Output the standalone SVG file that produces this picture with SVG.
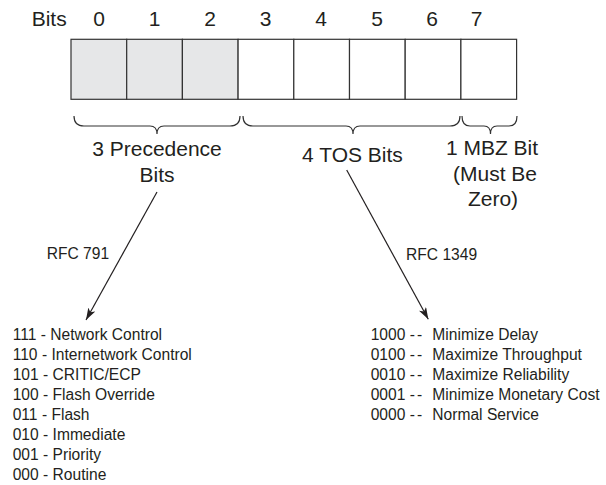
<svg xmlns="http://www.w3.org/2000/svg" width="606" height="485" viewBox="0 0 606 485">
<defs>
<style>
.t{font-family:"Liberation Sans",Arial,sans-serif;fill:#231f20}
.big{font-size:21px}
.sm{font-size:15.6px}
.cell{stroke:#333;stroke-width:1.2}
.brace{fill:none;stroke:#333;stroke-width:1.2}
.conn{stroke:#231f20;stroke-width:1.2;fill:none}
</style>
<marker id="ah" viewBox="0 0 12 8" refX="12" refY="4" markerWidth="12" markerHeight="8" markerUnits="userSpaceOnUse" orient="auto">
<path d="M0,0 L12,4 L0,8 L3,4 Z" fill="#231f20"/>
</marker>
</defs>
<rect width="606" height="485" fill="#fff"/>
<g id="header" class="t big">
<text x="31.7" y="25.5">Bits</text>
<g text-anchor="middle">
<text x="99" y="25.5">0</text>
<text x="154.5" y="25.5">1</text>
<text x="210" y="25.5">2</text>
<text x="265.5" y="25.5">3</text>
<text x="321" y="25.5">4</text>
<text x="377" y="25.5">5</text>
<text x="432" y="25.5">6</text>
<text x="476.5" y="25.5">7</text>
</g>
</g>
<g id="tos-byte">
<rect class="cell" x="71" y="39.3" width="55.7" height="60" fill="#e6e7e8"/>
<rect class="cell" x="126.7" y="39.3" width="55.7" height="60" fill="#e6e7e8"/>
<rect class="cell" x="182.4" y="39.3" width="55.7" height="60" fill="#e6e7e8"/>
<rect class="cell" x="238.1" y="39.3" width="55.7" height="60" fill="#fff"/>
<rect class="cell" x="293.8" y="39.3" width="55.7" height="60" fill="#fff"/>
<rect class="cell" x="349.5" y="39.3" width="55.7" height="60" fill="#fff"/>
<rect class="cell" x="405.2" y="39.3" width="55.7" height="60" fill="#fff"/>
<rect class="cell" x="460.9" y="39.3" width="55.7" height="60" fill="#fff"/>
</g>
<g id="precedence">
<path class="brace" d="M74,116 Q74,126 84,126 L150,126 Q157,126 157,134 Q157,126 164,126 L230,126 Q240,126 240,116"/>
<text class="t big" text-anchor="middle" x="157" y="156">3 Precedence</text>
<text class="t big" text-anchor="middle" x="157" y="181.7">Bits</text>
</g>
<g id="tos">
<path class="brace" d="M243,116 Q243,126 253,126 L346,126 Q353,126 353,134 Q353,126 360,126 L450,126 Q460,126 460,116"/>
<text class="t big" text-anchor="middle" x="352.5" y="162">4 TOS Bits</text>
</g>
<g id="mbz">
<path class="brace" d="M462,116 Q462,126 470,126 L484,126 Q490.5,126 490.5,134 Q490.5,126 497,126 L509,126 Q517,126 517,116"/>
<text class="t big" text-anchor="middle" x="492" y="155">1 MBZ Bit</text>
<text class="t big" text-anchor="middle" x="495" y="181">(Must Be</text>
<text class="t big" text-anchor="middle" x="493" y="206">Zero)</text>
</g>
<g id="connectors">
<line class="conn" x1="157" y1="192" x2="86" y2="320" marker-end="url(#ah)"/>
<line class="conn" x1="346.7" y1="170" x2="428.3" y2="319.3" marker-end="url(#ah)"/>
<text class="t sm" x="46.7" y="259.3">RFC 791</text>
<text class="t sm" x="406" y="260">RFC 1349</text>
</g>
<g id="precedence-values" class="t sm">
<text x="12.7" y="340">111 - Network Control</text>
<text x="12.7" y="360">110 - Internetwork Control</text>
<text x="12.7" y="380">101 - CRITIC/ECP</text>
<text x="12.7" y="400">100 - Flash Override</text>
<text x="12.7" y="420">011 - Flash</text>
<text x="12.7" y="440">010 - Immediate</text>
<text x="12.7" y="460">001 - Priority</text>
<text x="12.7" y="480">000 - Routine</text>
</g>
<g id="tos-values" class="t sm">
<text x="370.7" y="340">1000 <tspan letter-spacing="2">--</tspan> <tspan x="432.3">Minimize Delay</tspan></text>
<text x="370.7" y="360">0100 <tspan letter-spacing="2">--</tspan> <tspan x="432.3">Maximize Throughput</tspan></text>
<text x="370.7" y="380">0010 <tspan letter-spacing="2">--</tspan> <tspan x="432.3">Maximize Reliability</tspan></text>
<text x="370.7" y="400">0001 <tspan letter-spacing="2">--</tspan> <tspan x="432.3">Minimize Monetary Cost</tspan></text>
<text x="370.7" y="420">0000 <tspan letter-spacing="2">--</tspan> <tspan x="432.3">Normal Service</tspan></text>
</g>
</svg>
